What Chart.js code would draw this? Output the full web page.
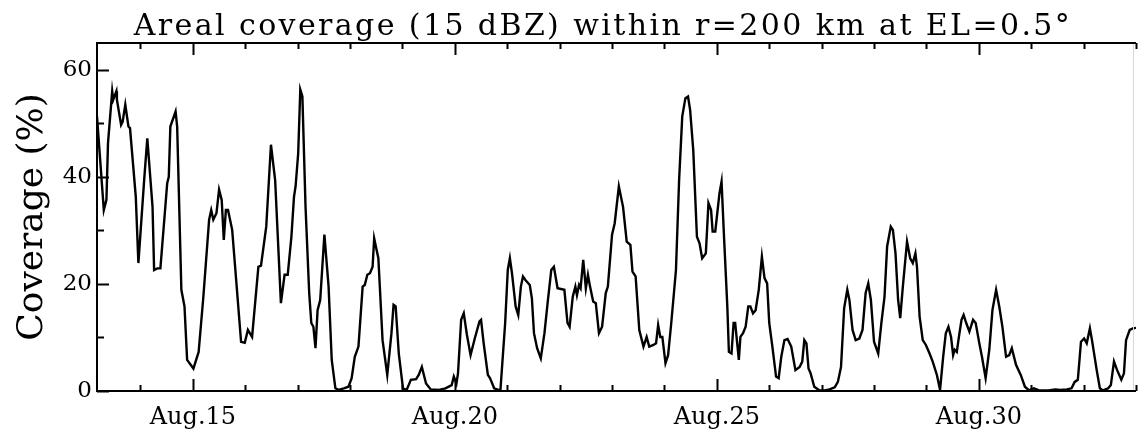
<!DOCTYPE html>
<html>
<head>
<meta charset="utf-8">
<script src="https://cdn.jsdelivr.net/npm/chart.js@4/dist/chart.umd.min.js"></script>
<style>
  html, body { margin: 0; padding: 0; background: #fff; }
  #wrap { width: 1148px; height: 432px; }
</style>
</head>
<body>
<div id="wrap"><canvas id="coverChart" width="1148" height="432"></canvas></div>
<script>
// time in days of August (fractional)
const days = [
  13.17,13.30,13.35,13.38,13.46,13.48,13.54,13.55,13.63,13.66,
  13.71,13.77,13.80,13.91,13.96,14.07,14.13,14.23,14.26,14.32,
  14.38,14.51,14.54,14.57,14.67,14.70,14.78,14.84,14.89,15.01,
  15.11,15.20,15.31,15.35,15.39,15.45,15.50,15.55,15.59,15.63,
  15.67,15.75,15.92,15.99,16.05,16.13,16.25,16.30,16.40,16.49,
  16.57,16.68,16.75,16.81,16.88,16.93,16.96,17.01,17.05,17.09,
  17.15,17.22,17.26,17.30,17.34,17.38,17.43,17.51,17.59,17.65,
  17.72,17.78,17.88,17.97,18.03,18.09,18.16,18.24,18.28,18.33,
  18.38,18.43,18.46,18.54,18.62,18.71,18.79,18.83,18.87,18.93,
  19.01,19.08,19.16,19.26,19.31,19.37,19.45,19.54,19.70,19.82,
  19.94,19.98,20.03,20.06,20.12,20.17,20.23,20.30,20.38,20.47,
  20.50,20.55,20.63,20.67,20.75,20.83,20.87,20.96,21.01,21.05,
  21.09,21.16,21.21,21.26,21.30,21.35,21.43,21.47,21.51,21.57,
  21.64,21.71,21.77,21.84,21.89,21.96,22.09,22.15,22.19,22.25,
  22.30,22.33,22.37,22.40,22.45,22.50,22.54,22.58,22.64,22.69,
  22.75,22.81,22.88,22.92,23.00,23.05,23.13,23.21,23.28,23.35,
  23.39,23.45,23.52,23.60,23.66,23.71,23.79,23.84,23.88,23.92,
  23.96,24.02,24.07,24.13,24.22,24.28,24.34,24.40,24.45,24.49,
  24.55,24.62,24.67,24.72,24.79,24.84,24.89,24.92,24.97,25.05,
  25.09,25.14,25.20,25.23,25.28,25.32,25.35,25.42,25.45,25.50,
  25.55,25.60,25.64,25.69,25.74,25.80,25.86,25.91,25.96,26.00,
  26.06,26.13,26.18,26.23,26.29,26.35,26.42,26.50,26.58,26.63,
  26.67,26.71,26.75,26.79,26.86,26.96,27.06,27.15,27.25,27.31,
  27.37,27.43,27.49,27.53,27.59,27.65,27.72,27.78,27.84,27.89,
  27.94,28.00,28.08,28.14,28.20,28.25,28.32,28.36,28.41,28.46,
  28.50,28.55,28.63,28.69,28.74,28.79,28.82,28.87,28.93,28.99,
  29.06,29.12,29.20,29.26,29.32,29.37,29.42,29.47,29.51,29.54,
  29.58,29.62,29.67,29.71,29.76,29.82,29.89,29.94,30.01,30.06,
  30.13,30.20,30.26,30.33,30.39,30.45,30.52,30.58,30.63,30.71,
  30.80,30.88,30.96,31.05,31.15,31.33,31.46,31.56,31.68,31.77,
  31.83,31.89,31.95,32.01,32.06,32.12,32.16,32.25,32.31,32.37,
  32.47,32.52,32.58,32.64,32.72,32.77,32.81,32.88,32.94,33.00
];

// areal coverage (%)
const coverage = [
  51.3,33.8,35.7,46.3,56.0,54.4,56.0,54.4,49.7,50.3,
  53.5,49.4,49.1,36.3,23.9,39.4,47.2,34.4,22.6,22.9,
  22.9,38.8,40.0,49.4,52.2,49.4,18.9,15.8,5.8,4.2,
  7.3,17.6,32.0,33.8,32.0,33.2,37.6,35.7,28.2,33.8,
  33.8,30.1,9.2,9.0,11.4,10.1,23.2,23.4,30.7,46.0,
  39.4,16.4,21.7,21.7,28.8,36.3,38.2,44.4,56.3,55.0,
  34.4,18.3,12.7,12.0,8.0,15.1,17.0,29.2,19.5,5.8,
  0.5,0.2,0.5,0.8,2.4,6.4,8.3,19.5,19.8,21.7,
  22.0,23.2,28.5,24.8,9.5,3.0,10.8,16.1,15.8,7.0,
  0.5,0.2,2.1,2.2,3.0,4.5,1.4,0.3,0.2,0.5,
  1.1,2.7,1.4,3.3,13.3,14.5,10.5,6.7,9.8,13.0,
  13.3,8.9,3.0,2.4,0.5,0.2,0.2,12.7,22.6,24.8,
  22.0,15.8,14.2,19.5,21.4,20.7,19.8,17.3,10.8,8.0,
  6.1,10.8,16.4,22.6,23.2,19.2,18.9,12.7,12.0,17.6,
  19.5,17.9,19.8,19.2,24.5,19.2,21.7,19.5,16.7,16.4,
  10.8,12.0,18.3,19.5,29.2,31.3,38.2,34.4,27.9,27.3,
  22.3,21.4,11.4,8.3,10.1,8.3,8.6,8.9,12.3,10.1,
  10.1,5.2,6.7,12.7,22.6,39.4,51.3,54.7,55.0,52.5,
  45.0,28.8,27.6,24.8,25.7,35.1,33.8,29.8,29.8,36.9,
  39.1,28.2,15.8,7.3,7.0,12.7,12.7,5.8,10.1,10.8,
  12.0,15.8,15.8,14.5,15.1,18.9,25.1,21.1,20.1,12.7,
  8.3,2.7,2.4,6.4,9.5,9.7,8.3,3.9,4.5,5.5,
  9.5,8.9,4.2,3.3,0.8,0.1,0.1,0.3,0.7,1.7,
  4.5,15.5,18.9,17.0,11.4,9.5,9.8,11.4,18.3,20.1,
  17.0,9.2,7.0,12.7,17.6,27.0,30.7,30.1,25.7,17.0,
  13.6,19.5,27.9,24.8,23.9,25.7,23.2,13.9,9.5,8.6,
  7.0,5.5,3.0,0.2,6.4,10.8,12.0,10.1,6.7,7.7,
  7.3,10.1,13.3,14.2,12.7,11.1,13.3,12.7,8.9,6.4,
  2.4,7.7,15.1,18.9,15.8,12.0,6.4,6.7,8.0,4.9,
  3.0,0.8,0.1,0.5,0.1,0.1,0.3,0.2,0.3,0.5,
  1.7,2.1,9.2,9.8,8.9,11.7,9.5,3.9,0.5,0.1,
  0.5,1.1,5.5,3.9,2.1,3.3,9.5,11.4,11.7,11.8
];

const labelDays = [15, 20, 25, 30];     // labelled x ticks -> "Aug.15" ...
const yLabelTicks = [0, 20, 40, 60];    // labelled y ticks
const yMinorTicks = [10, 30, 50];
const xRange = [13.17, 33.0];
const yRange = [0, 65];

const titleText = "Areal coverage (15 dBZ) within r=200 km at EL=0.5\u00B0";
const serif = "'DejaVu Serif', 'Liberation Serif', serif";

// frame, inward tick marks and the title
const framePlugin = {
  id: "frame",
  afterDraw(chart) {
    const ctx = chart.ctx;
    const a = chart.chartArea;
    const xs = chart.scales.x;
    const ys = chart.scales.y;
    ctx.save();

    ctx.strokeStyle = "#d8d8d8";
    ctx.lineWidth = 1;
    ctx.beginPath();
    ctx.moveTo(a.right - 2.5, a.top);
    ctx.lineTo(a.right - 2.5, a.bottom);
    ctx.stroke();

    ctx.strokeStyle = "#000";
    ctx.lineWidth = 2;
    ctx.beginPath();
    ctx.moveTo(a.right, a.top);
    ctx.lineTo(a.left, a.top);
    ctx.lineTo(a.left, a.bottom);
    ctx.lineTo(a.right, a.bottom);
    ctx.stroke();

    ctx.beginPath();
    for (let d = Math.ceil(xRange[0]); d <= Math.floor(xRange[1]); d++) {
      const px = Math.round(xs.getPixelForValue(d)) + 0.5;
      const len = labelDays.includes(d) ? 12 : 6;
      ctx.moveTo(px, a.bottom);
      ctx.lineTo(px, a.bottom - len);
      ctx.moveTo(px, a.top);
      ctx.lineTo(px, a.top + len);
    }
    yLabelTicks.concat(yMinorTicks).forEach(v => {
      const py = Math.round(ys.getPixelForValue(v)) + 0.5;
      const len = yLabelTicks.includes(v) ? 12 : 7;
      ctx.moveTo(a.left, py);
      ctx.lineTo(a.left + len, py);
    });
    ctx.stroke();

    ctx.fillStyle = "#000";
    ctx.font = "30px " + serif;
    ctx.letterSpacing = "2.4px";
    ctx.textAlign = "center";
    ctx.textBaseline = "alphabetic";
    ctx.fillText(titleText, 603, 35);
    ctx.restore();
  }
};

new Chart(document.getElementById("coverChart").getContext("2d"), {
  type: "line",
  data: {
    datasets: [{
      label: "Coverage",
      data: days.map((d, i) => ({ x: d, y: coverage[i] })),
      borderColor: "#000",
      borderWidth: 2.4,
      pointRadius: 0,
      tension: 0,
      fill: false
    }]
  },
  options: {
    responsive: false,
    animation: false,
    devicePixelRatio: 1,
    layout: { padding: { top: 43, right: 0, bottom: 0, left: 0 } },
    plugins: {
      legend: { display: false },
      tooltip: { enabled: false },
      title: { display: false }
    },
    scales: {
      x: {
        type: "linear",
        min: xRange[0],
        max: xRange[1],
        grid: { display: false, drawTicks: false },
        border: { display: false },
        ticks: {
          stepSize: 1,
          autoSkip: false,
          maxRotation: 0,
          padding: 12,
          color: "#000",
          font: { family: serif, size: 24 },
          callback: v => labelDays.includes(v) ? "Aug." + v : ""
        },
        afterFit: s => { s.height = 41; }
      },
      y: {
        min: yRange[0],
        max: yRange[1],
        grid: { display: false, drawTicks: false },
        border: { display: false },
        afterBuildTicks: s => { s.ticks = yLabelTicks.map(v => ({ value: v })); },
        ticks: {
          padding: 5,
          color: "#000",
          font: { family: serif, size: 23 }
        },
        title: {
          display: true,
          text: "Coverage (%)",
          color: "#000",
          font: { family: serif, size: 36 },
          padding: { top: 11, bottom: 0 }
        },
        afterFit: s => { s.width = 97; }
      }
    }
  },
  plugins: [framePlugin]
});
</script>
</body>
</html>
